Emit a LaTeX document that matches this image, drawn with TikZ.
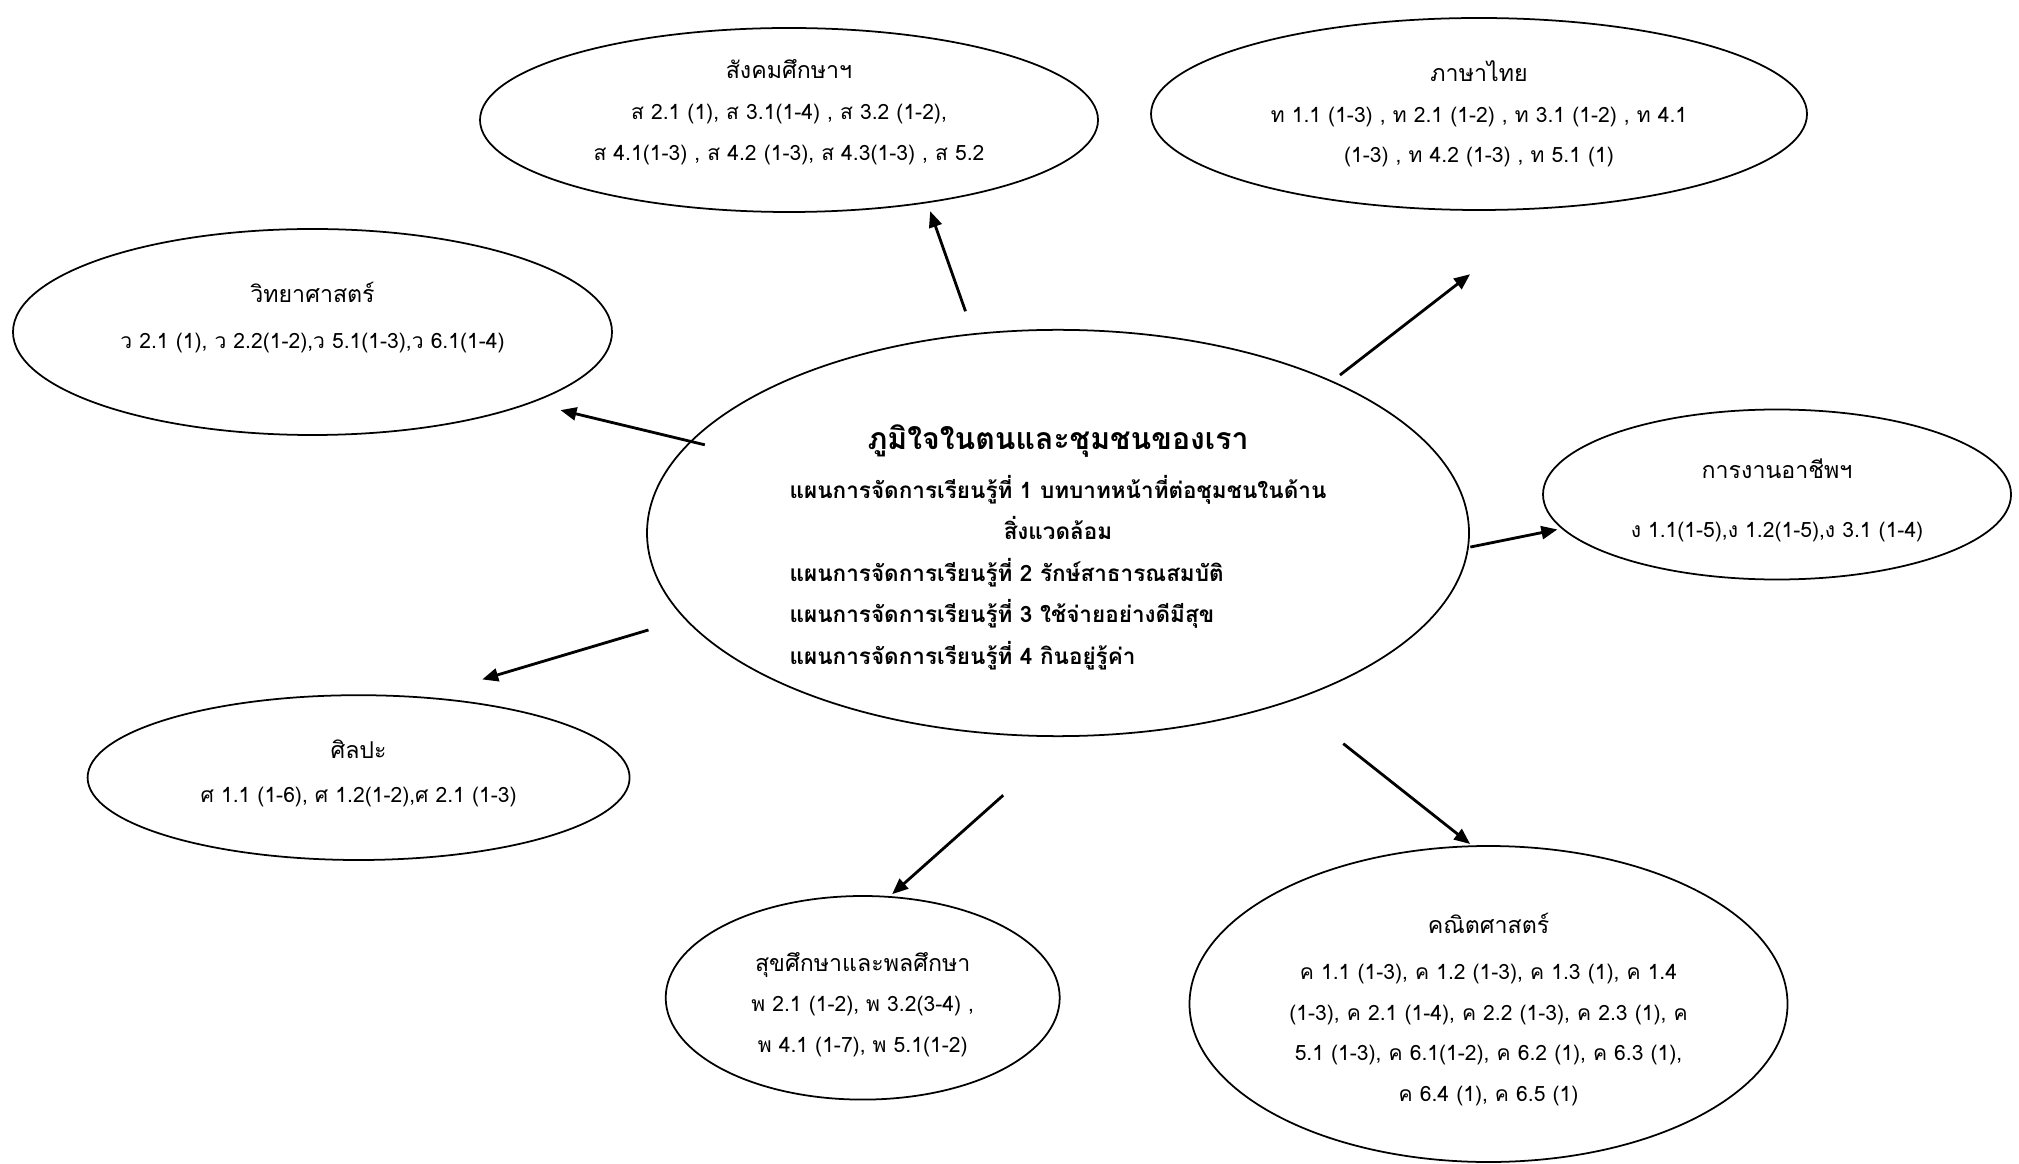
\documentclass[tikz,border=0pt]{standalone}
\usepackage{fontspec}
\setmainfont[Script=Thai]{Loma}
\usetikzlibrary{shapes, arrows.meta, positioning}
\tikzset{
  subj/.style={draw, ellipse, line width=0.5pt, inner sep=0pt, align=center,
    font=\fontsize{6.0}{11.6}\selectfont},
  link/.style={thick, -{Triangle[length=1.6mm, width=1.3mm]}}
}
\newcommand{\subjname}[1]{{\fontsize{6.6}{11.6}\selectfont #1}}

\begin{document}
\begin{tikzpicture}
  \useasboundingbox (0, 0) rectangle (20.19, 11.63);

  % Central unit
  \node[draw, ellipse, line width=0.5pt, inner sep=0pt, minimum width=8.22cm, minimum height=4.06cm,
    font=\bfseries\fontsize{6.4}{11.8}\selectfont] (plan) at (10.58, 6.30) {%
    \begin{tabular}{@{}l@{}}
      \multicolumn{1}{@{}c@{}}{\rule{0pt}{17pt}\fontsize{8.6}{11.8}\selectfont ภูมิใจในตนและชุมชนของเรา}\\[2.2pt]
      แผนการจัดการเรียนรู้ที่ 1 บทบาทหน้าที่ต่อชุมชนในด้าน\\
      \multicolumn{1}{@{}c@{}}{สิ่งแวดล้อม}\\
      แผนการจัดการเรียนรู้ที่ 2 รักษ์สาธารณสมบัติ\\
      แผนการจัดการเรียนรู้ที่ 3 ใช้จ่ายอย่างดีมีสุข\\
      แผนการจัดการเรียนรู้ที่ 4 กินอยู่รู้ค่า
    \end{tabular}};

  % Subject areas
  \node[subj, minimum width=6.18cm, minimum height=1.84cm] (social) at (7.89, 10.43)
    {\subjname{สังคมศึกษาฯ}\\ ส 2.1 (1), ส 3.1(1-4) , ส 3.2 (1-2),\\
     ส 4.1(1-3) , ส 4.2 (1-3), ส 4.3(1-3) , ส 5.2\rule[-5.7pt]{0pt}{5.7pt}};
  \node[subj, minimum width=6.56cm, minimum height=1.92cm] (thai) at (14.79, 10.49)
    {\subjname{ภาษาไทย}\\ ท 1.1 (1-3) , ท 2.1 (1-2) , ท 3.1 (1-2) , ท 4.1\\ (1-3) , ท 4.2 (1-3) , ท 5.1 (1)};
  \node[subj, minimum width=5.99cm, minimum height=2.06cm] (science) at (3.125, 8.31)
    {\subjname{วิทยาศาสตร์}\\[1.5pt] ว 2.1 (1), ว 2.2(1-2),ว 5.1(1-3),ว 6.1(1-4)\rule[-9.7pt]{0pt}{9.7pt}};
  \node[subj, minimum width=4.68cm, minimum height=1.70cm] (career) at (17.77, 6.685)
    {\rule{0pt}{8.9pt}\subjname{การงานอาชีพฯ}\\[5pt] ง 1.1(1-5),ง 1.2(1-5),ง 3.1 (1-4)};
  \node[subj, minimum width=5.42cm, minimum height=1.648cm] (arts) at (3.586, 3.854)
    {\subjname{ศิลปะ}\\[1pt] ศ 1.1 (1-6), ศ 1.2(1-2),ศ 2.1 (1-3)\rule[-3.5pt]{0pt}{3.5pt}};
  \node[subj, minimum width=3.94cm, minimum height=2.036cm] (health) at (8.627, 1.652)
    {\rule{0pt}{9.3pt}\subjname{สุขศึกษาและพลศึกษา}\\ พ 2.1 (1-2), พ 3.2(3-4) ,\\ พ 4.1 (1-7), พ 5.1(1-2)};
  \node[subj, minimum width=5.98cm, minimum height=3.16cm] (maths) at (14.885, 1.59)
    {\rule{0pt}{8.9pt}\subjname{คณิตศาสตร์}\\[1.5pt] ค 1.1 (1-3), ค 1.2 (1-3), ค 1.3 (1), ค 1.4\\ (1-3), ค 2.1 (1-4), ค 2.2 (1-3), ค 2.3 (1), ค\\
     5.1 (1-3), ค 6.1(1-2), ค 6.2 (1), ค 6.3 (1),\\ ค 6.4 (1), ค 6.5 (1)};

  % Arrows out of the unit
  \draw[link, shorten <=0.234cm, shorten >=0.086cm] (plan.113) -- (social.-31);
  \draw[link, shorten <=0.095cm, shorten >=1.078cm] (plan.29) -- (thai.-51.3);
  \draw[link, shorten <=-0.151cm, shorten >=0.299cm] (plan.166.1) -- (science.-18.5);
  \draw[link, shorten <=0.015cm, shorten >=0.042cm] (plan.-2) -- (career.189.9);
  \draw[link, shorten <=0.378cm, shorten >=0.607cm] (plan.193.5) -- (arts.51.4);
  \draw[link, shorten <=0.877cm, shorten >=0.029cm] (plan.-87.1) -- (health.75.2);
  \draw[link, shorten <=0.679cm, shorten >=0.022cm] (plan.-36.7) -- (maths.96.7);
\end{tikzpicture}
\end{document}
